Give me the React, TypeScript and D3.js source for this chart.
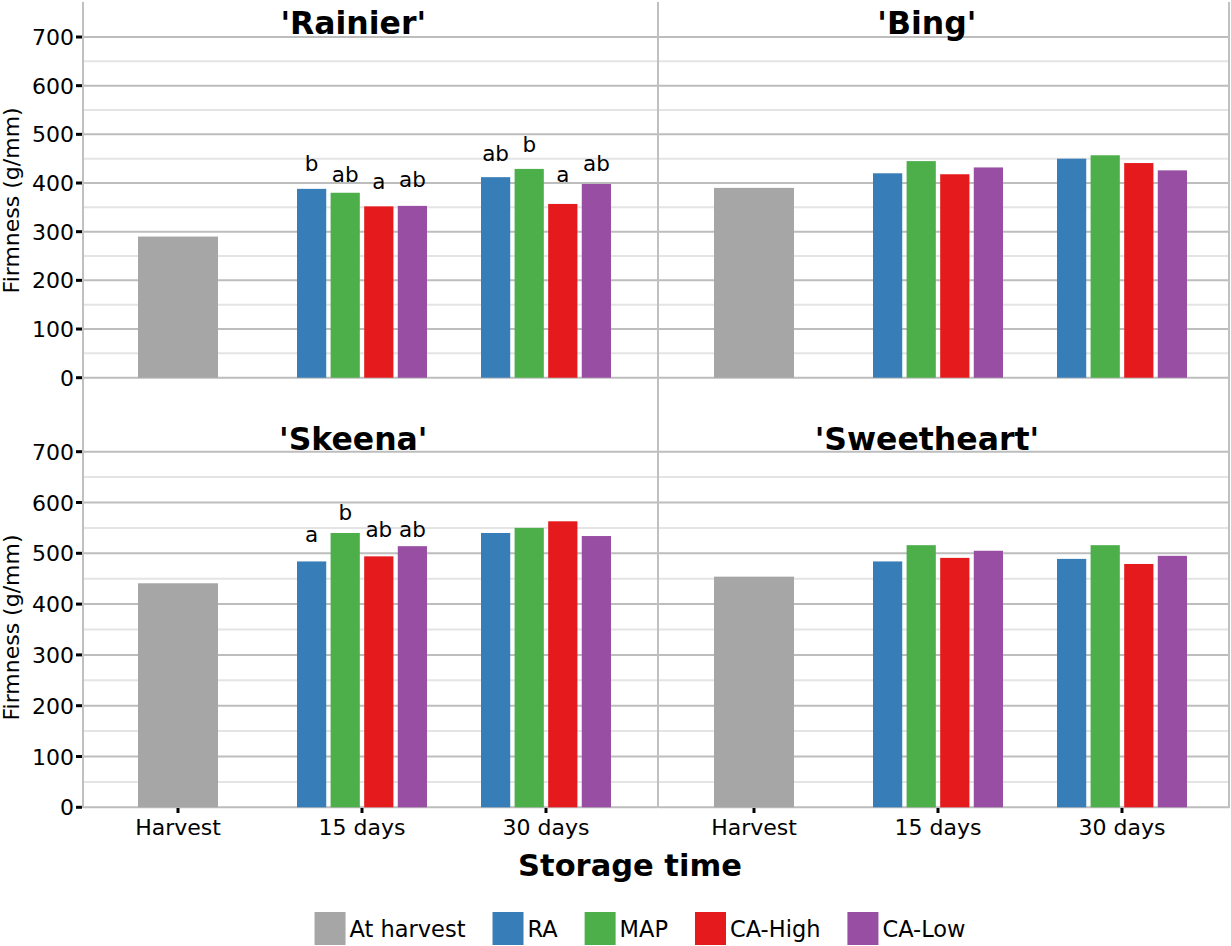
import React from "react";
import * as d3 from "d3";

// ---------- data ----------
const times = ["Harvest", "15 days", "30 days"];
const treatments = ["RA", "MAP", "CA-High", "CA-Low"];
const legendLabels = ["At harvest", "RA", "MAP", "CA-High", "CA-Low"];
const legendColors = ["#a6a6a6", "#377eb8", "#4daf4a", "#e41a1c", "#984ea3"];
const cultivars = ["'Rainier'", "'Bing'", "'Skeena'", "'Sweetheart'"];

const harvestValues = [290, 390, 441, 454];

const rainierDay15 = [388, 380, 352, 353];
const rainierDay30 = [412, 429, 357, 398];
const bingDay15 = [420, 445, 418, 432];
const bingDay30 = [450, 457, 441, 426];
const skeenaDay15 = [484, 540, 494, 514];
const skeenaDay30 = [540, 550, 563, 534];
const sweetheartDay15 = [484, 516, 491, 505];
const sweetheartDay30 = [489, 516, 479, 495];

const rainierLetters15 = ["b", "ab", "a", "ab"];
const rainierLetterY15 = [425, 403, 387, 392];
const rainierLetters30 = ["ab", "b", "a", "ab"];
const rainierLetterY30 = [445, 464, 403, 425];
const skeenaLetters15 = ["a", "b", "ab", "ab"];
const skeenaLetterY15 = [523, 565, 532, 532];

const yTicks = [0, 100, 200, 300, 400, 500, 600, 700];
const yMinor = [50, 150, 250, 350, 450, 550, 650];

const yTitle = "Firmness (g/mm)";
const xTitle = "Storage time";

// ---------- layout ----------
const W = 1231;
const H = 946;
const colX0 = [83, 659];
const colX1 = [658, 1229];
const rowY = [
  [377.7, 37],
  [807.3, 451.7],
];
const lineTop = 2;
const lineBottom = 808;
const FONT = "'DejaVu Sans', 'Liberation Sans', Arial, sans-serif";
const gridMajor = "#bdbdbd";
const gridMinor = "#e4e4e4";

const series = [
  { day15: rainierDay15, day30: rainierDay30, l15: rainierLetters15, ly15: rainierLetterY15, l30: rainierLetters30, ly30: rainierLetterY30 },
  { day15: bingDay15, day30: bingDay30 },
  { day15: skeenaDay15, day30: skeenaDay30, l15: skeenaLetters15, ly15: skeenaLetterY15 },
  { day15: sweetheartDay15, day30: sweetheartDay30 },
];

function measure(text: string, font: string) {
  const c = document.createElement("canvas").getContext("2d");
  if (!c) return text.length * 12;
  c.font = font;
  return c.measureText(text).width;
}

function Panel({ idx }: { idx: number }) {
  const col = idx % 2;
  const row = Math.floor(idx / 2);
  const x0 = colX0[col];
  const x1 = colX1[col];
  const y = d3.scaleLinear().domain([0, 700]).range(rowY[row]);
  const x = d3
    .scalePoint<string>()
    .domain(times)
    .range([x0 + 95, x0 + 463]);
  const inner = d3
    .scaleBand<string>()
    .domain(treatments)
    .range([-65, 65])
    .paddingInner(0.13);
  const harvestW = 80;
  const s = series[idx];
  const groups = [
    { t: times[1], vals: s.day15, letters: s.l15, ly: s.ly15 },
    { t: times[2], vals: s.day30, letters: s.l30, ly: s.ly30 },
  ];
  return (
    <g>
      {yMinor.map((v) => (
        <line key={"mi" + v} x1={x0} x2={x1} y1={y(v)} y2={y(v)} stroke={gridMinor} strokeWidth={2} />
      ))}
      {yTicks.map((v) => (
        <line key={"ma" + v} x1={x0} x2={x1} y1={y(v)} y2={y(v)} stroke={gridMajor} strokeWidth={2} />
      ))}
      {/* harvest bar */}
      <rect
        x={(x(times[0]) as number) - harvestW / 2}
        y={y(harvestValues[idx])}
        width={harvestW}
        height={y(0) - y(harvestValues[idx])}
        fill={legendColors[0]}
      />
      {groups.map((g) =>
        g.vals.map((v, i) => {
          const bx = (x(g.t) as number) + (inner(treatments[i]) as number);
          return (
            <g key={g.t + i}>
              <rect x={bx} y={y(v)} width={inner.bandwidth()} height={y(0) - y(v)} fill={legendColors[i + 1]} />
              {g.letters && g.ly ? (
                <text
                  x={bx + inner.bandwidth() / 2}
                  y={y(g.ly[i])}
                  textAnchor="middle"
                  fontFamily={FONT}
                  fontSize={21.5}
                  fill="#000"
                >
                  {g.letters[i]}
                </text>
              ) : null}
            </g>
          );
        })
      )}
      {/* panel title */}
      <text
        x={x0 + (x1 - x0) * 0.47}
        y={row === 0 ? 33.5 : 449.5}
        textAnchor="middle"
        fontFamily={FONT}
        fontWeight="bold"
        fontSize={31.5}
        fill="#000"
      >
        {cultivars[idx]}
      </text>
      {/* y axis for left column */}
      {col === 0 ? (
        <g>
          {yTicks.map((v) => (
            <g key={"t" + v}>
              <line x1={76} x2={82} y1={y(v)} y2={y(v)} stroke="#000" strokeWidth={3} />
              <text
                x={74}
                y={y(v) + 8}
                textAnchor="end"
                fontFamily={FONT}
                fontSize={22}
                fill="#000"
              >
                {v}
              </text>
            </g>
          ))}
          <text
            transform={`translate(19, ${y(350) - (row === 0 ? 7 : 2)}) rotate(-90)`}
            textAnchor="middle"
            fontFamily={FONT}
            fontSize={22}
            fill="#000"
          >
            {yTitle}
          </text>
        </g>
      ) : null}
      {/* x axis for bottom row */}
      {row === 1 ? (
        <g>
          {times.map((t) => (
            <g key={t}>
              <line x1={x(t) as number} x2={x(t) as number} y1={808} y2={813} stroke="#000" strokeWidth={3} />
              <text x={x(t) as number} y={834.5} textAnchor="middle" fontFamily={FONT} fontSize={22} fill="#000">
                {t}
              </text>
            </g>
          ))}
        </g>
      ) : null}
    </g>
  );
}

function Legend() {
  const font = `22.5px ${FONT}`;
  const keyW = 31;
  const keyH = 33;
  const textGap = 4;
  const itemGap = 27;
  const widths = legendLabels.map((l) => measure(l, font));
  const total =
    widths.reduce((a, b) => a + b, 0) + legendLabels.length * (keyW + textGap) + (legendLabels.length - 1) * itemGap;
  let cx = 640 - total / 2;
  const items = legendLabels.map((l, i) => {
    const it = { label: l, color: legendColors[i], x: cx };
    cx += keyW + textGap + widths[i] + itemGap;
    return it;
  });
  return (
    <g>
      {items.map((it) => (
        <g key={it.label}>
          <rect x={it.x} y={912} width={keyW} height={keyH} fill={it.color} />
          <text x={it.x + keyW + textGap} y={937} fontFamily={FONT} fontSize={22.5} fill="#000">
            {it.label}
          </text>
        </g>
      ))}
    </g>
  );
}

export default function App() {
  return (
    <svg
      width={W}
      height={H}
      viewBox={`0 0 ${W} ${H}`}
      style={{ position: "fixed", left: 0, top: 0, background: "#fff" }}
    >
      <rect x={0} y={0} width={W} height={H} fill="#fff" />
      {[0, 1, 2, 3].map((i) => (
        <Panel key={i} idx={i} />
      ))}
      {[colX0[0], colX1[0], colX1[1]].map((vx, i) => (
        <line key={"v" + i} x1={vx} x2={vx} y1={lineTop} y2={lineBottom} stroke="#c0c0c0" strokeWidth={2} />
      ))}
      <text x={630} y={876} textAnchor="middle" fontFamily={FONT} fontWeight="bold" fontSize={30.5} fill="#000">
        {xTitle}
      </text>
      <Legend />
    </svg>
  );
}
